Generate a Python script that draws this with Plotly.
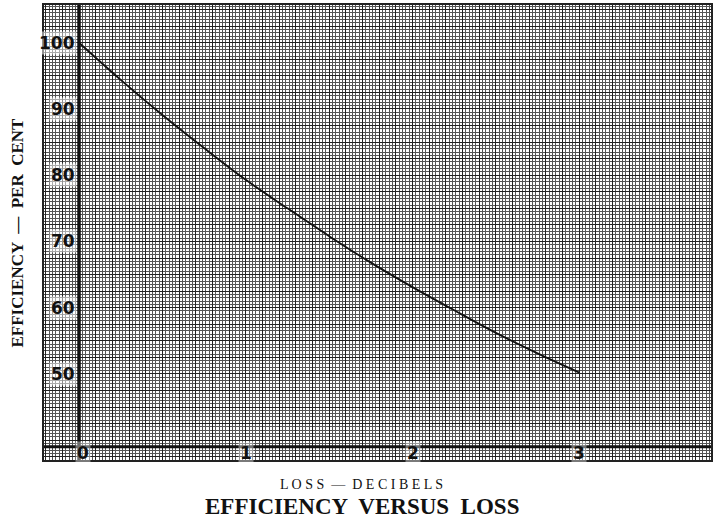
import plotly.graph_objects as go

# Data
loss_db = [0, 0.25, 0.5, 0.75, 1.0, 1.25, 1.5, 1.75, 2.0, 2.25, 2.5, 2.75, 3.0]
efficiency = [100, 94.4, 89.1, 84.1, 79.3, 75.0, 70.8, 66.8, 63.1, 59.6, 56.2, 53.1, 50.2]

x_ticks = [0, 1, 2, 3]
x_tick_labels = ["0", "1", "2", "3"]
y_ticks = [50, 60, 70, 80, 90, 100]
y_tick_labels = ["50", "60", "70", "80", "90", "100"]

x_axis_level = 39  # value where the heavy horizontal base line sits

fig = go.Figure()
fig.add_trace(go.Scatter(x=loss_db, y=efficiency, mode="lines",
                         line=dict(color="#111111", width=1.8, shape="spline"),
                         showlegend=False, hoverinfo="skip"))

XR = [-0.21, 3.79]
YR = [37.0, 105.7]

# heavy axis lines
fig.add_shape(type="line", x0=0, x1=0, y0=YR[0], y1=YR[1], xref="x", yref="y",
              line=dict(color="#111111", width=3.5))
fig.add_shape(type="line", x0=XR[0], x1=XR[1], y0=x_axis_level, y1=x_axis_level,
              xref="x", yref="y", line=dict(color="#111111", width=3))

tick_font = dict(family="DejaVu Sans", size=17, color="#111111")
for v, t in zip(y_ticks, y_tick_labels):
    fig.add_annotation(x=0, y=v, xref="x", yref="y", text="<b>%s</b>" % t,
                       showarrow=False, xanchor="right", yanchor="middle",
                       xshift=-2, font=tick_font, bgcolor="rgba(255,255,255,0.5)")
for v, t in zip(x_ticks, x_tick_labels):
    fig.add_annotation(x=v, y=x_axis_level, xref="x", yref="y", text="<b>%s</b>" % t,
                       showarrow=False, xanchor="center", yanchor="middle",
                       xshift=4 if v == 0 else 0, yshift=-6, font=tick_font,
                       bgcolor="rgba(255,255,255,0.4)")

serif = "Liberation Serif"
fig.add_annotation(x=0, y=0.5, xref="paper", yref="paper", xshift=-27,
                   xanchor="center", yanchor="middle",
                   text="<b>EFFICIENCY  —  PER  CENT</b>", textangle=-90, showarrow=False,
                   font=dict(family=serif, size=17, color="#111111"))
fig.add_annotation(x=0.5, y=0, xref="paper", yref="paper", yshift=-24,
                   xanchor="center", yanchor="middle",
                   xshift=-16, text="L O S S  —  D E C I B E L S", showarrow=False,
                   font=dict(family=serif, size=14, color="#111111"))
fig.add_annotation(x=0.5, y=0, xref="paper", yref="paper", yshift=-46,
                   xanchor="center", yanchor="middle",
                   xshift=-16, text="<b>EFFICIENCY  VERSUS  LOSS</b>", showarrow=False,
                   font=dict(family=serif, size=23, color="#111111"))

fig.update_xaxes(range=XR, showticklabels=False, ticks="", zeroline=False,
                 tick0=0, dtick=0.1, showgrid=True, gridcolor="#222222", gridwidth=1.2,
                 minor=dict(dtick=0.02, showgrid=True, gridcolor="#555555", gridwidth=1),
                 showline=True, linecolor="#222222", linewidth=2, mirror=True)
fig.update_yaxes(range=YR, showticklabels=False, ticks="", zeroline=False,
                 tick0=40, dtick=2.5, showgrid=True, gridcolor="#222222", gridwidth=1.2,
                 minor=dict(dtick=0.5, showgrid=True, gridcolor="#555555", gridwidth=1),
                 showline=True, linecolor="#222222", linewidth=2, mirror=True)

fig.update_layout(width=716, height=518, margin=dict(l=44, r=3, t=5, b=58),
                  paper_bgcolor="white", plot_bgcolor="white")

fig.write_html("out.html", config={"displayModeBar": False},
               post_script="document.body.style.margin='0px';")
